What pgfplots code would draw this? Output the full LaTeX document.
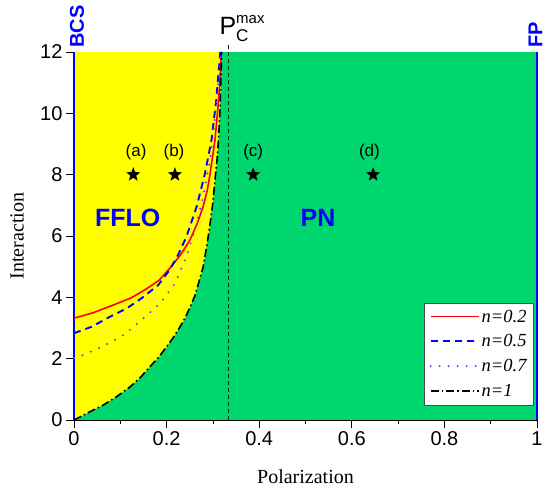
\documentclass[border=0pt]{standalone}
\usepackage{fontspec}
\setmainfont{Liberation Serif}
\setsansfont{Liberation Sans}
\usepackage{pgfplots}
\usepackage{pgfplotstable}
\pgfplotsset{compat=1.18}
\definecolor{fyellow}{RGB}{255,255,0}
\definecolor{pgreen}{RGB}{0,214,110}
\definecolor{pviolet}{RGB}{140,40,255}
\pgfdeclareplotmark{fstar}{%
  \pgfpathmoveto{\pgfqpointpolar{90}{\pgfplotmarksize}}%
  \pgfpathlineto{\pgfqpointpolar{126}{0.42\pgfplotmarksize}}%
  \pgfpathlineto{\pgfqpointpolar{162}{\pgfplotmarksize}}%
  \pgfpathlineto{\pgfqpointpolar{198}{0.42\pgfplotmarksize}}%
  \pgfpathlineto{\pgfqpointpolar{234}{\pgfplotmarksize}}%
  \pgfpathlineto{\pgfqpointpolar{270}{0.42\pgfplotmarksize}}%
  \pgfpathlineto{\pgfqpointpolar{306}{\pgfplotmarksize}}%
  \pgfpathlineto{\pgfqpointpolar{342}{0.42\pgfplotmarksize}}%
  \pgfpathlineto{\pgfqpointpolar{18}{\pgfplotmarksize}}%
  \pgfpathlineto{\pgfqpointpolar{54}{0.42\pgfplotmarksize}}%
  \pgfpathclose
  \pgfusepathqfill}
\pgfplotstableread{
x y
0 0
0.032 0.25
0.0634 0.49
0.092 0.76
0.121 1.08
0.143 1.38
0.164 1.74
0.183 2.05
0.2 2.39
0.215 2.70
0.229 3.04
0.241 3.36
0.251 3.69
0.261 4.05
0.269 4.46
0.279 5.0
0.287 5.7
0.294 6.41
0.300 7.1
0.3045 7.83
0.309 8.5
0.312 9.13
0.315 10.0
0.317 11.0
0.319 12
}\nOne
\begin{document}
\begin{tikzpicture}
\begin{axis}[
  name=ax, scale only axis, width=463bp, height=368bp,
  xmin=0, xmax=1, ymin=0, ymax=12,
  axis x line*=bottom, axis y line*=left,
  tick align=outside,
  xtick={0,0.2,0.4,0.6,0.8,1}, xticklabels={0,0.2,0.4,0.6,0.8,1},
  minor x tick num=1,
  ytick={0,2,4,6,8,10,12},
  major tick length=8bp, minor tick length=4bp,
  every tick/.style={black, line width=0.8bp},
  axis line style={black, line width=0.8bp},
  ticklabel style={font=\sffamily\fontsize{20bp}{20bp}\selectfont},
  /pgf/number format/assume math mode=true,
  clip=false,
  axis background/.style={fill=pgreen},
  legend style={at={(axis cs:0.993,0.49)}, anchor=south east, draw=black!70, fill=white,
    font=\fontsize{18.5bp}{22bp}\selectfont\itshape, inner xsep=5bp, inner ysep=5bp, row sep=7bp},
  legend cell align=left,
  legend image code/.code={\draw[#1] (0bp,0bp) -- (48bp,0bp);},
]
% yellow FFLO region bounded by n=1 curve
\addplot[fill=fyellow, draw=none, forget plot] table[x=x,y=y] {\nOne} -- (axis cs:0,12) -- cycle;
% Pc max dashed line
\addplot[black!85!green, dash pattern=on 4bp off 3bp, line width=0.9bp, forget plot] coordinates {(0.3333,0) (0.3333,12.25)};
% boundaries BCS and FP
\addplot[blue, line width=2.5bp, forget plot] coordinates {(0,0) (0,12)};
\addplot[blue, line width=2.5bp, forget plot] coordinates {(1,0) (1,12)};
% curves
\addplot[red, line width=1.6bp] coordinates {
(0,3.32) (0.042,3.5) (0.085,3.75) (0.1245,3.99) (0.157,4.28) (0.184,4.56) (0.207,4.95)
(0.23,5.38) (0.2505,5.87) (0.266,6.4) (0.279,6.96) (0.288,7.5) (0.294,8.04) (0.3045,9.13)
(0.311,10.2) (0.315,11.0) (0.318,12)};
\addlegendentry{n=0.2\hspace{24bp}}
\addplot[blue, line width=1.9bp, dash pattern=on 7bp off 5bp] coordinates {
(0,2.83) (0.038,3.04) (0.078,3.37) (0.114,3.64) (0.146,3.97) (0.182,4.4) (0.207,4.9)
(0.226,5.42) (0.243,5.98) (0.265,6.96) (0.283,8.04) (0.297,9.13) (0.307,10.4) (0.312,11.3) (0.316,12)};
\addlegendentry{n=0.5}
\addplot[pviolet, line width=2.2bp, line cap=round, dash pattern=on 0bp off 9bp] coordinates {
(0,2.02) (0.02,2.12) (0.063,2.41) (0.107,2.77) (0.146,3.26) (0.186,3.8) (0.218,4.45)
(0.243,5.33) (0.261,6.2) (0.279,7.28) (0.294,8.48) (0.305,9.9) (0.312,11.0) (0.317,12)};
\addlegendentry{n=0.7}
\addplot[black, line width=1.6bp, dash pattern=on 8bp off 3bp on 1.6bp off 3bp] table[x=x,y=y] {\nOne};
\addlegendentry{n=1}
% stars
\addplot[only marks, mark=fstar, mark size=7.5bp, black, forget plot] coordinates {
(0.128,8) (0.218,8) (0.387,8) (0.646,8)};
% text labels
\node[font=\sffamily\fontsize{17bp}{17bp}\selectfont] at (axis cs:0.134,8.72) {(a)};
\node[font=\sffamily\fontsize{17bp}{17bp}\selectfont] at (axis cs:0.216,8.72) {(b)};
\node[font=\sffamily\fontsize{17bp}{17bp}\selectfont] at (axis cs:0.387,8.72) {(c)};
\node[font=\sffamily\fontsize{17bp}{17bp}\selectfont] at (axis cs:0.638,8.72) {(d)};
\node[font=\sffamily\bfseries\fontsize{25bp}{25bp}\selectfont, text=blue] at (axis cs:0.116,6.58) {FFLO};
\node[font=\sffamily\bfseries\fontsize{25bp}{25bp}\selectfont, text=blue] at (axis cs:0.527,6.58) {PN};
\node[font=\sffamily\bfseries\fontsize{20bp}{20bp}\selectfont, text=blue, rotate=90, anchor=west, inner sep=0pt] at ([xshift=3bp,yshift=4bp]axis cs:0,12) {BCS};
\node[font=\sffamily\bfseries\fontsize{20bp}{20bp}\selectfont, text=blue, rotate=90, anchor=west, inner sep=0pt] at ([xshift=-1.5bp,yshift=4bp]axis cs:1,12) {FP};
\node[font=\sffamily\fontsize{25bp}{25bp}\selectfont, anchor=base west, inner sep=0pt] at ([xshift=-9bp,yshift=17bp]axis cs:0.3333,12)
  {P\rlap{\raisebox{11bp}{\fontsize{15bp}{15bp}\selectfont max}}\raisebox{-7bp}{\fontsize{17bp}{17bp}\selectfont C}};
% axis labels
\node[font=\fontsize{20bp}{20bp}\selectfont, rotate=90] at ([xshift=-57bp]rel axis cs:0,0.5) {Interaction};
\node[font=\fontsize{20bp}{20bp}\selectfont] at ([yshift=-57bp]rel axis cs:0.5,0) {Polarization};
\end{axis}
\pgfresetboundingbox
\path ([shift={(-74bp,-67bp)}]ax.south west) rectangle ([shift={(7bp,52bp)}]ax.north east);
\end{tikzpicture}
\end{document}
